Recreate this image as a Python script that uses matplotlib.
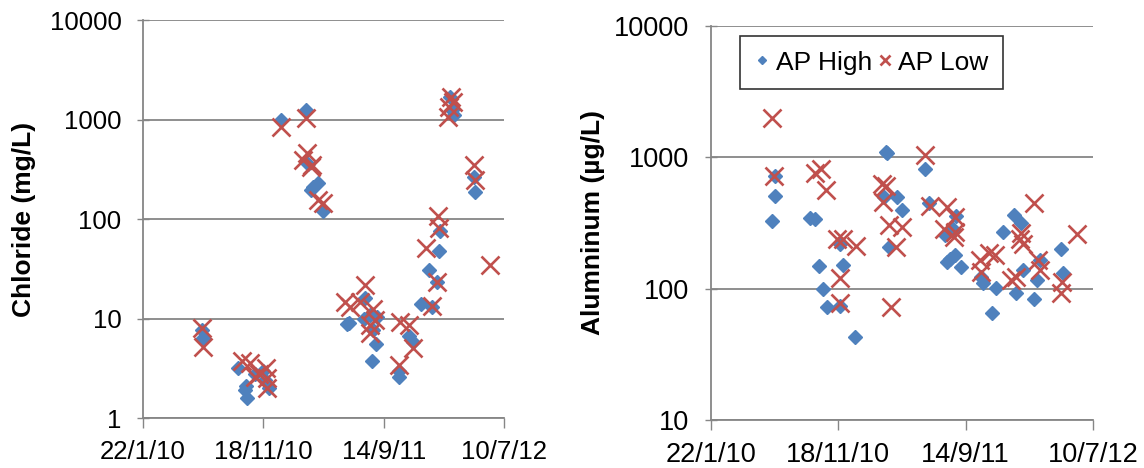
import matplotlib
matplotlib.use("Agg")
import matplotlib.pyplot as plt
import matplotlib.dates as mdates
from matplotlib.ticker import FuncFormatter, NullLocator, FixedLocator
import numpy as np

plt.rcParams['font.family'] = ['Liberation Sans', 'DejaVu Sans']

START = np.datetime64('2010-01-22')

# days since 22/1/10
cl_high_days = [146, 150, 238, 254, 259, 257, 279, 304, 313, 300,
                343, 407, 412, 418, 437, 425, 448,
                508, 514, 554, 551, 566, 574, 580, 570, 584,
                639, 639, 664, 672, 692, 714, 721, 734, 738, 741,
                766, 770, 776, 824, 828]
cl_high = [7.7, 6.3, 3.2, 1.9, 1.6, 2.1, 2.8, 2.4, 2.0, 3.0,
           980, 1260, 360, 195, 230, 210, 121,
           8.9, 9.0, 16, 10, 10.8, 7.6, 5.6, 3.7, 10.4,
           2.6, 3.0, 6.6, 5.8, 14, 31, 13, 23.5, 48, 76,
           1700, 1245, 1110, 266, 187]

cl_low_days = [146, 150, 246, 267, 288, 279, 307, 308, 310,
               343, 407, 408, 400, 421, 418, 437, 448,
               504, 516, 554, 541, 574, 579, 566, 566,
               641, 662, 672, 637,
               706, 735, 739, 732, 720,
               767, 774, 761, 764,
               826, 828, 865]
cl_low = [8.0, 5.2, 3.7, 3.55, 2.8, 2.6, 3.2, 2.0, 2.5,
          850, 1030, 460, 390, 350, 335, 155, 145,
          14.8, 13.1, 21.8, 14.8, 12.6, 9.7, 8.6, 7.1,
          9.3, 8.6, 5.0, 3.4,
          51, 107, 81, 23.5, 13.3,
          1700, 1510, 1070, 1350,
          350, 246, 34.6]

al_high_days = [150, 150, 144, 233, 245, 255, 263, 274, 304, 310,
                304, 340, 413, 415, 407, 438, 449, 420,
                504, 514, 551, 578, 570, 555, 562, 574, 588,
                637, 642, 663, 672, 689, 714, 731, 735, 719,
                762, 769, 774, 825, 829]
al_high = [716, 508, 326, 347, 340, 148, 100, 72.5, 220, 151,
           74, 43, 1100, 1070, 500, 500, 400, 208,
           810, 445, 255, 355, 287, 160, 169, 179, 146,
           123, 110, 65, 102, 268, 365, 314, 138, 92,
           83, 116, 164, 199, 131]

al_low_days = [144, 149, 245, 260, 272, 297, 310, 341, 305, 304,
               402, 413, 405, 419, 449, 437, 423,
               504, 515, 555, 549, 576, 574, 572,
               633, 635, 656, 668,
               707, 719, 731, 735, 728,
               762, 770, 774, 828, 825, 863]
al_low = [1990, 716, 760, 815, 565, 240, 240, 210, 120, 78,
          630, 610, 455, 303, 295, 208, 73,
          1036, 427, 418, 287, 353, 270, 247,
          165, 135, 186, 180,
          116, 123, 263, 219, 240,
          445, 165, 138, 113, 92, 260]

tick_days = [0, 300, 600, 900]

BLUE = '#4f81bd'
RED = '#c0504d'
GRID = '#868686'


def to_dates(days):
    return START + np.array(days, dtype='timedelta64[D]')


def fmt_date(x, pos=None):
    d = mdates.num2date(x)
    return "%d/%d/%s" % (d.day, d.month, d.strftime('%y'))


def setup(ax, ymin, ylabel, fs):
    ax.set_yscale('log')
    ax.set_ylim(ymin, 10000)
    ticks = to_dates(tick_days)
    ax.set_xlim(ticks[0], ticks[-1])
    ax.xaxis.set_major_locator(FixedLocator(mdates.date2num(ticks)))
    ax.xaxis.set_major_formatter(FuncFormatter(fmt_date))
    ax.yaxis.set_minor_locator(NullLocator())
    ax.yaxis.set_major_formatter(FuncFormatter(lambda v, p: "%d" % v))
    ax.grid(axis='y', color=GRID, linewidth=1.3, zorder=0)
    for s in ['top', 'right']:
        ax.spines[s].set_visible(False)
    for s in ['left', 'bottom']:
        ax.spines[s].set_color(GRID)
        ax.spines[s].set_linewidth(1.3)
    ax.tick_params(axis='y', direction='inout', length=9, width=1, color=GRID,
                   labelsize=fs, pad=11)
    ax.tick_params(axis='x', direction='out', length=7, width=1, color=GRID,
                   labelsize=fs, pad=9)
    ax.set_ylabel(ylabel, fontsize=19, fontweight='bold')
    ax.set_axisbelow(True)


fig = plt.figure(figsize=(11.44, 4.68), dpi=100)
ax1 = fig.add_axes([0.125, 0.1068, 0.3156, 0.8504])
ax2 = fig.add_axes([0.6215, 0.1026, 0.3339, 0.8419])

setup(ax1, 1, 'Chloride (mg/L)', 18.5)
setup(ax2, 10, 'Alumninum (\u00b5g/L)', 19.5)

for ax, hd, hv, ld, lv in [(ax1, cl_high_days, cl_high, cl_low_days, cl_low),
                           (ax2, al_high_days, al_high, al_low_days, al_low)]:
    ax.plot(to_dates(hd), hv, linestyle='none', marker='D', markersize=7,
            color=BLUE, label='AP High', zorder=3, clip_on=False)
    ax.plot(to_dates(ld), lv, linestyle='none', marker='x', markersize=13,
            markeredgewidth=1.9, color=RED, label='AP Low', zorder=4, clip_on=False)

ax1.yaxis.set_label_coords(-0.296, 0.5)
ax2.yaxis.set_label_coords(-0.277, 0.5)

leg = ax2.legend(loc='upper left', bbox_to_anchor=(740 / 1144, 1 - 36 / 468),
                 bbox_transform=fig.transFigure, borderaxespad=0, ncol=2,
                 fontsize=19, frameon=True, fancybox=False, handlelength=0.6,
                 handletextpad=0.2, columnspacing=0.2, borderpad=0.55,
                 markerscale=0.6)
leg.get_frame().set_edgecolor('black')
leg.get_frame().set_linewidth(1.2)

fig.savefig('out.png', dpi=100)
